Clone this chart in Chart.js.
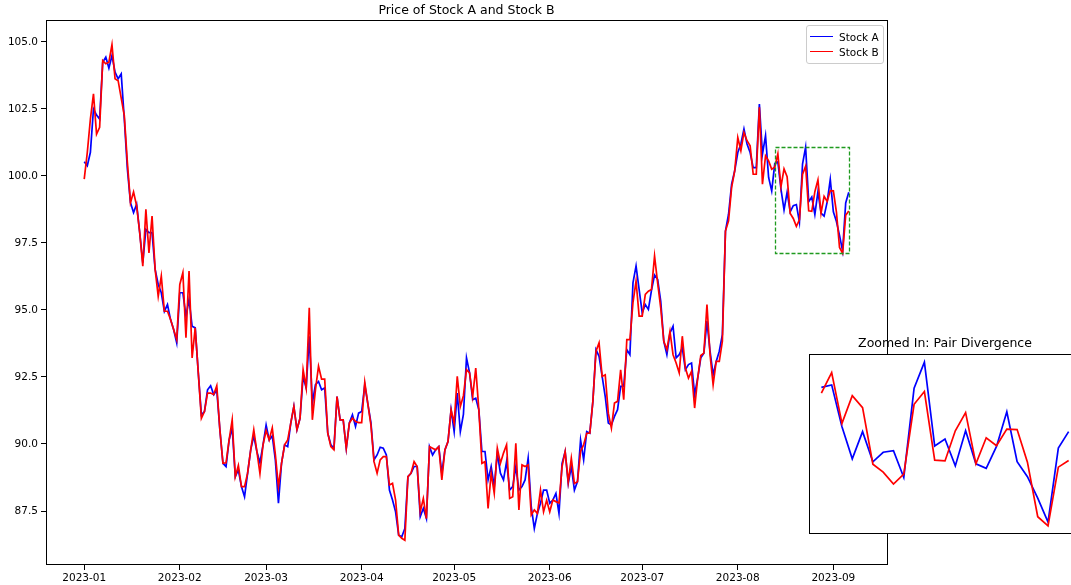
<!DOCTYPE html>
<html>
<head>
<meta charset="utf-8">
<script src="https://cdn.jsdelivr.net/npm/chart.js@4.4.1/dist/chart.umd.min.js"></script>
<style>
html, body { margin: 0; padding: 0; background: #fff; width: 1071px; height: 585px; overflow: hidden; position: relative; font-family: "DejaVu Sans", sans-serif; }
#main { position: absolute; left: 0; top: 0; }
#zoom { position: absolute; left: 809px; top: 332px; }
#legend { position: absolute; left: 806px; top: 25px; width: 76px; height: 37px; border: 1px solid #cccccc; border-radius: 3px; background: rgba(255,255,255,0.8); font-size: 10.5px; color: #000; }
#legend .row { position: absolute; left: 0; height: 14px; line-height: 14px; }
#legend .swatch { position: absolute; left: 3px; top: 6px; width: 23px; height: 0; border-top: 1.5px solid; }
#legend .lbl { position: absolute; left: 32px; top: 0; white-space: nowrap; }
</style>
</head>
<body>
<canvas id="main" width="1071" height="585"></canvas>
<div id="legend">
  <div class="row" style="top:4px"><span class="swatch" style="border-color:#0000ff"></span><span class="lbl">Stock A</span></div>
  <div class="row" style="top:19px"><span class="swatch" style="border-color:#ff0000"></span><span class="lbl">Stock B</span></div>
</div>
<canvas id="zoom" width="272" height="204"></canvas>
<script>
// daily closing prices, 2023-01-01 .. 2023-09-06 (one value per calendar day)
var stockA = [
  100.53, 100.38, 100.88, 102.50, 102.27, 102.12, 104.24, 104.43, 104.02, 104.49,
  103.87, 103.62, 103.80, 102.12, 100.25, 99.00, 98.63, 98.94, 97.88, 96.76,
  98.00, 97.88, 97.88, 96.51, 95.95, 95.64, 94.95, 95.20, 94.64, 94.27,
  93.77, 95.64, 95.64, 94.77, 95.39, 94.39, 94.33, 92.65, 91.09, 91.21,
  92.02, 92.17, 91.84, 92.00, 90.53, 89.28, 89.16, 90.15, 90.60, 88.78,
  89.03, 88.41, 88.03, 88.91, 89.78, 90.30, 89.72, 89.30, 89.97, 90.71,
  90.15, 90.30, 89.40, 87.79, 89.28, 89.97, 89.90, 90.78, 91.40, 90.53,
  90.96, 92.52, 92.09, 94.02, 91.53, 92.21, 92.33, 92.02, 92.09, 90.40,
  89.97, 89.84, 91.77, 90.90, 90.90, 89.84, 90.78, 91.09, 90.65, 91.15,
  91.21, 92.21, 91.50, 90.80, 89.41, 89.59, 89.88, 89.84, 89.59, 88.28,
  87.91, 87.47, 86.60, 86.54, 86.85, 88.78, 88.91, 89.16, 89.16, 87.29,
  87.60, 87.22, 89.90, 89.59, 89.78, 89.90, 88.90, 89.78, 90.09, 91.28,
  90.46, 91.90, 90.46, 91.10, 93.21, 92.65, 91.65, 91.71, 91.28, 89.72,
  89.72, 88.66, 89.16, 88.41, 89.66, 88.91, 88.66, 89.34, 88.28, 88.41,
  89.16, 88.28, 88.41, 88.66, 89.47, 87.66, 86.85, 87.41, 87.79, 88.28,
  88.28, 87.79, 87.91, 88.16, 87.41, 89.28, 89.72, 88.53, 89.16, 88.28,
  88.60, 90.15, 89.41, 90.46, 90.40, 91.60, 93.52, 93.27, 92.52, 91.77,
  90.78, 90.71, 91.03, 91.28, 92.15, 92.15, 93.52, 93.33, 96.01, 96.64,
  95.76, 94.89, 95.20, 95.02, 95.73, 96.30, 96.14, 95.33, 93.83, 93.33,
  94.14, 94.39, 93.21, 93.33, 93.58, 92.77, 92.96, 93.02, 91.84, 92.46,
  93.21, 93.39, 94.58, 93.46, 92.58, 93.08, 93.46, 94.08, 97.94, 98.57,
  99.69, 100.19, 100.87, 101.19, 101.75, 101.19, 100.87, 100.31, 100.31, 102.68,
  100.81, 101.50, 99.94, 99.44, 100.46, 100.52, 99.51, 98.73, 99.39, 98.66,
  98.89, 98.93, 98.28, 100.44, 101.07, 99.04, 99.21, 98.56, 99.41, 98.61,
  98.50, 99.03, 99.87, 98.66, 98.30, 97.78, 97.20, 98.99, 99.39
];
var stockB = [
  99.88, 100.88, 102.12, 103.06, 101.56, 101.81, 104.30, 104.18, 104.24, 104.89,
  103.62, 103.55, 102.90, 102.25, 100.50, 99.00, 99.40, 98.88, 97.88, 96.63,
  98.75, 97.13, 98.50, 96.51, 95.51, 96.26, 94.95, 94.95, 94.64, 94.27,
  93.90, 95.95, 96.39, 93.96, 96.45, 93.21, 94.33, 92.65, 90.96, 91.21,
  91.90, 91.90, 91.84, 92.17, 90.53, 89.28, 89.30, 90.15, 90.90, 88.78,
  89.20, 88.41, 88.41, 88.91, 89.78, 90.53, 89.72, 88.90, 89.97, 90.50,
  90.15, 90.60, 89.60, 88.41, 89.28, 89.97, 90.15, 90.78, 91.40, 90.53,
  90.96, 92.77, 92.09, 95.08, 90.90, 92.02, 92.90, 92.42, 92.42, 90.40,
  89.90, 89.78, 91.77, 90.90, 90.90, 89.84, 90.78, 90.96, 90.84, 90.80,
  90.80, 92.30, 91.50, 90.70, 89.34, 88.91, 89.41, 89.53, 89.53, 88.47,
  88.53, 87.91, 86.60, 86.48, 86.41, 88.78, 88.91, 89.34, 89.16, 87.47,
  87.97, 87.22, 89.90, 89.84, 89.78, 89.90, 88.66, 89.78, 90.09, 91.28,
  90.78, 92.52, 91.40, 91.80, 92.77, 92.65, 91.77, 92.83, 91.28, 89.28,
  89.34, 87.60, 88.91, 88.16, 89.84, 89.28, 89.66, 89.97, 87.97, 88.03,
  90.03, 87.54, 89.22, 89.16, 89.22, 87.35, 87.54, 87.41, 88.28, 87.47,
  87.90, 87.47, 87.91, 87.85, 87.80, 89.16, 89.72, 88.59, 89.47, 88.53,
  88.59, 89.72, 89.97, 90.40, 90.40, 91.60, 93.46, 93.77, 92.52, 92.58,
  91.15, 90.59, 91.53, 91.59, 92.77, 91.65, 93.89, 93.89, 95.27, 96.07,
  94.77, 94.77, 95.58, 95.70, 95.76, 97.01, 96.01, 95.08, 93.83, 93.52,
  94.20, 93.33, 93.02, 92.65, 94.02, 92.83, 92.46, 92.71, 91.34, 92.46,
  93.30, 93.39, 95.20, 93.33, 92.21, 93.08, 93.08, 93.83, 97.94, 98.32,
  99.57, 100.19, 101.43, 100.94, 101.62, 101.31, 101.12, 100.06, 100.06, 102.56,
  99.69, 100.75, 100.56, 100.25, 100.32, 100.82, 99.59, 100.26, 99.97, 98.60,
  98.41, 98.12, 98.36, 100.05, 100.36, 98.70, 98.68, 99.41, 99.85, 98.61,
  99.24, 99.05, 99.45, 99.44, 98.65, 97.33, 97.11, 98.53, 98.69
];
// x tick positions (day index since 2023-01-01) and their labels
var monthTicks = [0, 31, 59, 90, 120, 151, 181, 212, 243];
var monthLabels = ['2023-01', '2023-02', '2023-03', '2023-04', '2023-05', '2023-06', '2023-07', '2023-08', '2023-09'];
var yTicks = [87.5, 90.0, 92.5, 95.0, 97.5, 100.0, 102.5, 105.0];
// the window shown in the inset: last 25 days
var zoomFrom = 224;
var zoomTo = 248;

function toPoints(arr, from, to) {
  var out = [];
  for (var i = from; i <= to; i++) out.push({x: i, y: arr[i]});
  return out;
}
function lims(lo, hi) {
  var pad = (hi - lo) * 0.05;
  return [lo - pad, hi + pad];
}

var last = stockA.length - 1;
var allVals = stockA.concat(stockB);
var yLim = lims(Math.min.apply(null, allVals), Math.max.apply(null, allVals));
var xLim = lims(0, last);

var zVals = stockA.slice(zoomFrom, zoomTo + 1).concat(stockB.slice(zoomFrom, zoomTo + 1));
var zLo = Math.min.apply(null, zVals), zHi = Math.max.apply(null, zVals);
var zyLim = lims(zLo, zHi);
var zxLim = lims(zoomFrom, zoomTo);

var font = '"DejaVu Sans", sans-serif';
var lw = 1.7;

var frame = {
  id: 'frame',
  beforeDraw: function(chart) {
    var a = chart.chartArea, c = chart.ctx;
    c.save();
    c.fillStyle = '#fff';
    c.fillRect(a.left, a.top, a.right - a.left, a.bottom - a.top);
    c.restore();
  },
  afterDraw: function(chart) {
    var a = chart.chartArea, c = chart.ctx;
    c.save();
    c.strokeStyle = '#000';
    c.lineWidth = 1;
    c.strokeRect(Math.round(a.left) + 0.5, Math.round(a.top) + 0.5, Math.round(a.right - a.left), Math.round(a.bottom - a.top) - 1);
    var t = chart.options.plugins.frame.title;
    if (t) {
      c.fillStyle = '#000';
      c.font = '12.5px ' + font;
      c.textAlign = 'center';
      c.textBaseline = 'middle';
      c.fillText(t, (a.left + a.right) / 2, chart.options.plugins.frame.titleY);
    }
    c.restore();
  }
};

var zoomBox = {
  id: 'zoomBox',
  afterDatasetsDraw: function(chart) {
    var x = chart.scales.x, y = chart.scales.y, c = chart.ctx;
    var x0 = x.getPixelForValue(zoomFrom), x1 = x.getPixelForValue(zoomTo);
    var y0 = y.getPixelForValue(zHi), y1 = y.getPixelForValue(zLo);
    c.save();
    c.strokeStyle = '#1f9a1f';
    c.lineWidth = 1.3;
    c.setLineDash([4, 2]);
    c.strokeRect(Math.round(x0) + 0.5, Math.round(y0) + 0.5, Math.round(x1 - x0), Math.round(y1 - y0));
    c.restore();
  }
};

new Chart(document.getElementById('main').getContext('2d'), {
  type: 'line',
  data: {
    datasets: [
      { label: 'Stock A', data: toPoints(stockA, 0, last), borderColor: '#0000ff', borderWidth: lw, pointRadius: 0, order: 1 },
      { label: 'Stock B', data: toPoints(stockB, 0, last), borderColor: '#ff0000', borderWidth: lw, pointRadius: 0, order: 0 }
    ]
  },
  options: {
    responsive: false,
    animation: false,
    devicePixelRatio: 1,
    layout: { padding: { top: 20, right: 184, left: 0, bottom: 0 } },
    plugins: {
      legend: { display: false },
      tooltip: { enabled: false },
      frame: { title: 'Price of Stock A and Stock B', titleY: 10.5 }
    },
    scales: {
      x: {
        type: 'linear',
        min: xLim[0],
        max: xLim[1],
        afterBuildTicks: function(s) { s.ticks = monthTicks.map(function(v) { return {value: v}; }); },
        afterFit: function(s) { s.height = 20; },
        grid: { drawOnChartArea: false, drawTicks: true, tickLength: 5, color: '#000' },
        border: { display: false },
        ticks: {
          autoSkip: false, maxRotation: 0, padding: 2, color: '#000',
          font: { family: font, size: 10.5 },
          callback: function(v) { return monthLabels[monthTicks.indexOf(v)]; }
        }
      },
      y: {
        min: yLim[0],
        max: yLim[1],
        afterBuildTicks: function(s) { s.ticks = yTicks.map(function(v) { return {value: v}; }); },
        afterFit: function(s) { s.width = 46; },
        grid: { drawOnChartArea: false, drawTicks: true, tickLength: 5, color: '#000' },
        border: { display: false },
        ticks: {
          padding: 3, color: '#000',
          font: { family: font, size: 10.5 },
          callback: function(v) { return v.toFixed(1); }
        }
      }
    }
  },
  plugins: [frame, zoomBox]
});

new Chart(document.getElementById('zoom').getContext('2d'), {
  type: 'line',
  data: {
    datasets: [
      { label: 'Stock A', data: toPoints(stockA, zoomFrom, zoomTo), borderColor: '#0000ff', borderWidth: lw, pointRadius: 0, order: 1 },
      { label: 'Stock B', data: toPoints(stockB, zoomFrom, zoomTo), borderColor: '#ff0000', borderWidth: lw, pointRadius: 0, order: 0 }
    ]
  },
  options: {
    responsive: false,
    animation: false,
    devicePixelRatio: 1,
    layout: { padding: { top: 22, right: 0, left: 0, bottom: 2 } },
    plugins: {
      legend: { display: false },
      tooltip: { enabled: false },
      frame: { title: 'Zoomed In: Pair Divergence', titleY: 12 }
    },
    scales: {
      x: { type: 'linear', display: false, min: zxLim[0], max: zxLim[1] },
      y: { display: false, min: zyLim[0], max: zyLim[1] }
    }
  },
  plugins: [frame]
});
</script>
</body>
</html>
